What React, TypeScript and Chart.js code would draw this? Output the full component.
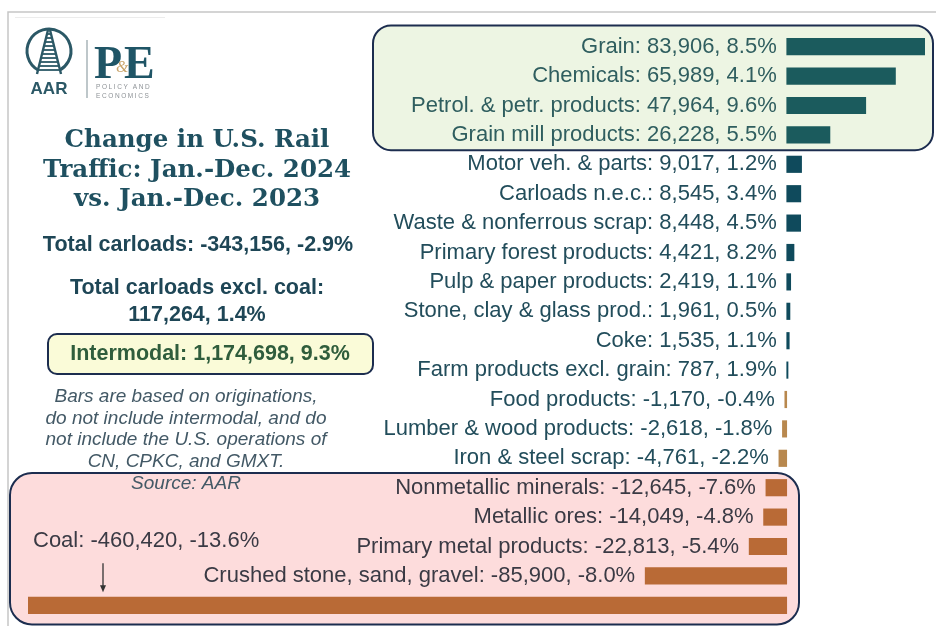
import React, { useEffect, useRef } from "react";
import { Chart, registerables } from "chart.js";

Chart.register(...registerables);

// ---- Data ----
const categories = [
  "Grain",
  "Chemicals",
  "Petrol. & petr. products",
  "Grain mill products",
  "Motor veh. & parts",
  "Carloads n.e.c.",
  "Waste & nonferrous scrap",
  "Primary forest products",
  "Pulp & paper products",
  "Stone, clay & glass prod.",
  "Coke",
  "Farm products excl. grain",
  "Food products",
  "Lumber & wood products",
  "Iron & steel scrap",
  "Nonmetallic minerals",
  "Metallic ores",
  "Primary metal products",
  "Crushed stone, sand, gravel",
  "Coal",
];
const changeCarloads = [
  83906, 65989, 47964, 26228, 9017, 8545, 8448, 4421, 2419, 1961, 1535, 787,
  -1170, -2618, -4761, -12645, -14049, -22813, -85900, -460420,
];
const changePct = [
  8.5, 4.1, 9.6, 5.5, 1.2, 3.4, 4.5, 8.2, 1.1, 0.5, 1.1, 1.9, -0.4, -1.8, -2.2,
  -7.6, -4.8, -5.4, -8.0, -13.6,
];

const titleLines = ["Change in U.S. Rail", "Traffic: Jan.-Dec. 2024", "vs. Jan.-Dec. 2023"];
const totalLine = "Total carloads: -343,156, -2.9%";
const exclCoalLines = ["Total carloads excl. coal:", "117,264, 1.4%"];
const intermodalLine = "Intermodal: 1,174,698, 9.3%";
const noteLines = [
  "Bars are based on originations,",
  "do not include intermodal, and do",
  "not include the U.S. operations of",
  "CN, CPKC, and GMXT.",
  "Source: AAR",
];

// ---- Styling helpers ----
const BIG_GAIN = 20000;
const BIG_LOSS = -10000;
function groupOf(v: number) {
  if (v >= BIG_GAIN) return "bigGain";
  if (v > 0) return "gain";
  if (v > BIG_LOSS) return "loss";
  return "bigLoss";
}
const barColor: Record<string, string> = {
  bigGain: "#1b5b5d",
  gain: "#0f4a5c",
  loss: "#b8884e",
  bigLoss: "#b96a36",
};
const labelColor: Record<string, string> = {
  bigGain: "#2f5e5f",
  gain: "#224d5b",
  loss: "#224d5b",
  bigLoss: "#3a3a44",
};
const SANS = '"Liberation Sans", Arial, Helvetica, sans-serif';
const NAVY = "#1c2d4f";

function fmtLabel(i: number) {
  return `${categories[i]}: ${changeCarloads[i].toLocaleString("en-US")}, ${changePct[i].toFixed(1)}%`;
}

function roundRect(ctx: CanvasRenderingContext2D, x: number, y: number, w: number, h: number, r: number) {
  ctx.beginPath();
  ctx.moveTo(x + r, y);
  ctx.lineTo(x + w - r, y);
  ctx.arcTo(x + w, y, x + w, y + r, r);
  ctx.lineTo(x + w, y + h - r);
  ctx.arcTo(x + w, y + h, x + w - r, y + h, r);
  ctx.lineTo(x + r, y + h);
  ctx.arcTo(x, y + h, x, y + h - r, r);
  ctx.lineTo(x, y + r);
  ctx.arcTo(x, y, x + r, y, r);
  ctx.closePath();
}

function drawLogo(ctx: CanvasRenderingContext2D) {
  const teal = "#2b5866";
  ctx.save();
  // faint logo card
  ctx.strokeStyle = "#ececec";
  ctx.lineWidth = 1;
  ctx.beginPath();
  ctx.moveTo(15, 17.5);
  ctx.lineTo(165, 17.5);
  ctx.stroke();
  // circle
  ctx.strokeStyle = teal;
  ctx.lineWidth = 3;
  const cx = 49, cy = 51, r = 22;
  ctx.beginPath();
  ctx.arc(cx, cy, r, Math.PI / 2 + 0.5, Math.PI / 2 - 0.5 + Math.PI * 2);
  ctx.stroke();
  // rails
  ctx.lineWidth = 2.4;
  ctx.beginPath();
  ctx.moveTo(cx - 1, 30);
  ctx.lineTo(cx - 12, 74);
  ctx.moveTo(cx + 1, 30);
  ctx.lineTo(cx + 12, 74);
  ctx.stroke();
  ctx.lineWidth = 1.8;
  for (let k = 0; k < 10; k++) {
    const t = (k + 1) / 11;
    const y = 30 + t * 44;
    const hw = 1 + t * 11;
    ctx.beginPath();
    ctx.moveTo(cx - hw, y);
    ctx.lineTo(cx + hw, y);
    ctx.stroke();
  }
  // AAR
  ctx.fillStyle = teal;
  ctx.font = `bold 17px ${SANS}`;
  ctx.textAlign = "center";
  ctx.textBaseline = "middle";
  ctx.fillText("AAR", cx, 89);
  // divider
  ctx.strokeStyle = "#a9b4b8";
  ctx.lineWidth = 1.5;
  ctx.beginPath();
  ctx.moveTo(87, 40);
  ctx.lineTo(87, 98);
  ctx.stroke();
  // P&E
  ctx.textAlign = "left";
  ctx.textBaseline = "alphabetic";
  ctx.font = `bold 46px "Liberation Serif", "Times New Roman", serif`;
  ctx.fillStyle = "#1f5566";
  ctx.fillText("P", 94, 78);
  ctx.fillText("E", 124, 78);
  ctx.fillStyle = "#c9a46a";
  ctx.font = `italic 16px "Liberation Serif", serif`;
  ctx.fillText("&", 116, 72);
  // POLICY AND ECONOMICS
  ctx.fillStyle = "#8d9296";
  ctx.font = `6.5px ${SANS}`;
  (ctx as any).letterSpacing = "1.6px";
  ctx.fillText("POLICY AND", 96, 89);
  ctx.fillText("ECONOMICS", 96, 98);
  (ctx as any).letterSpacing = "0px";
  ctx.restore();
}

const decor = {
  id: "decor",
  beforeDatasetsDraw(chart: any) {
    const ctx: CanvasRenderingContext2D = chart.ctx;
    const yScale = chart.scales.y;
    const band = yScale.getPixelForValue(1) - yScale.getPixelForValue(0);
    const n = categories.length;
    ctx.save();
    // outer frame
    ctx.strokeStyle = "#c6c6c6";
    ctx.lineWidth = 1.5;
    ctx.beginPath();
    ctx.moveTo(8, chart.height);
    ctx.lineTo(8, 12);
    ctx.lineTo(chart.width, 12);
    ctx.stroke();

    // green box around the big gains
    const gainIdx = changeCarloads.map((v, i) => (v >= BIG_GAIN ? i : -1)).filter((i) => i >= 0);
    const gTop = yScale.getPixelForValue(gainIdx[0]) - band * 0.72;
    const gBot = yScale.getPixelForValue(gainIdx[gainIdx.length - 1]) + band * 0.52;
    roundRect(ctx, 373, gTop, 560, gBot - gTop, 18);
    ctx.fillStyle = "#edf5e3";
    ctx.fill();
    ctx.strokeStyle = NAVY;
    ctx.lineWidth = 2;
    ctx.stroke();

    // pink box around the big losses
    const lossIdx = changeCarloads.map((v, i) => (v <= BIG_LOSS ? i : -1)).filter((i) => i >= 0);
    const pTop = yScale.getPixelForValue(lossIdx[0]) - band * 0.5;
    const pBot = yScale.getPixelForValue(n - 1) + band * 0.65;
    roundRect(ctx, 10, pTop, 789, pBot - pTop, 22);
    ctx.fillStyle = "#fddcdc";
    ctx.fill();
    ctx.strokeStyle = NAVY;
    ctx.lineWidth = 2;
    ctx.stroke();

    // intermodal box
    roundRect(ctx, 48, 334, 325, 40, 9);
    ctx.fillStyle = "#fafbd8";
    ctx.fill();
    ctx.strokeStyle = NAVY;
    ctx.lineWidth = 2;
    ctx.stroke();
    ctx.restore();
  },
  afterDatasetsDraw(chart: any) {
    const ctx: CanvasRenderingContext2D = chart.ctx;
    const xScale = chart.scales.x;
    const yScale = chart.scales.y;
    const x0 = xScale.getPixelForValue(0);
    ctx.save();
    ctx.font = `22px ${SANS}`;
    ctx.textBaseline = "middle";
    categories.forEach((_, i) => {
      const v = changeCarloads[i];
      const y = yScale.getPixelForValue(i);
      const xv = xScale.getPixelForValue(v);
      const left = Math.min(x0, xv);
      const text = fmtLabel(i);
      const w = ctx.measureText(text).width;
      ctx.fillStyle = labelColor[groupOf(v)];
      if (left - chart.chartArea.left < w + 20) {
        // no room: place above the bar, left aligned, with an arrow
        const lx = chart.chartArea.left + 5;
        const ly = y - 64;
        ctx.textAlign = "left";
        ctx.fillText(text, lx, ly);
        const ax = lx + 70;
        ctx.strokeStyle = "#333";
        ctx.lineWidth = 1.3;
        ctx.beginPath();
        ctx.moveTo(ax, ly + 22);
        ctx.lineTo(ax, y - 16);
        ctx.stroke();
        ctx.fillStyle = "#333";
        ctx.beginPath();
        ctx.moveTo(ax - 3, y - 20);
        ctx.lineTo(ax + 3, y - 20);
        ctx.lineTo(ax, y - 13);
        ctx.closePath();
        ctx.fill();
      } else {
        ctx.textAlign = "right";
        ctx.fillText(text, left - 10, y);
      }
    });

    // left panel
    drawLogo(ctx);
    ctx.textAlign = "center";
    ctx.textBaseline = "middle";
    ctx.fillStyle = "#1f5060";
    ctx.font = `bold 24.5px "DejaVu Serif", Georgia, serif`;
    titleLines.forEach((t, k) => ctx.fillText(t, 197, 141 + k * 29.5));

    ctx.fillStyle = "#1e4656";
    ctx.font = `bold 21.5px ${SANS}`;
    ctx.fillText(totalLine, 198, 245);
    exclCoalLines.forEach((t, k) => ctx.fillText(t, 197, 288 + k * 27));

    ctx.fillStyle = "#2f5d3c";
    ctx.font = `bold 21.5px ${SANS}`;
    ctx.fillText(intermodalLine, 210, 354);

    ctx.fillStyle = "#435966";
    ctx.font = `italic 19px ${SANS}`;
    noteLines.forEach((t, k) => ctx.fillText(t, 186, 397 + k * 21.6));
    ctx.restore();
  },
};

export default function App() {
  const ref = useRef<HTMLCanvasElement>(null);
  useEffect(() => {
    const canvas = ref.current!;
    const colors = changeCarloads.map((v) => barColor[groupOf(v)]);
    const chart = new Chart(canvas, {
      type: "bar",
      data: {
        labels: categories,
        datasets: [
          {
            data: changeCarloads,
            backgroundColor: colors,
            borderWidth: 0,
            barThickness: 16.5,
          },
        ],
      },
      options: {
        indexAxis: "y",
        responsive: false,
        maintainAspectRatio: false,
        animation: false,
        layout: { padding: { left: 28, right: 11, top: 32, bottom: 6 } },
        scales: {
          x: {
            type: "linear",
            min: Math.min(...changeCarloads),
            max: Math.max(...changeCarloads),
            display: false,
          },
          y: { type: "category", display: false, offset: true },
        },
        plugins: {
          legend: { display: false },
          tooltip: { enabled: false },
          title: { display: false },
        },
      },
      plugins: [decor],
    } as any);
    return () => chart.destroy();
  }, []);
  return (
    <div style={{ position: "absolute", left: 0, top: 0, width: 936, height: 626, background: "#fff" }}>
      <canvas ref={ref} width={936} height={626} style={{ display: "block" }} />
    </div>
  );
}
